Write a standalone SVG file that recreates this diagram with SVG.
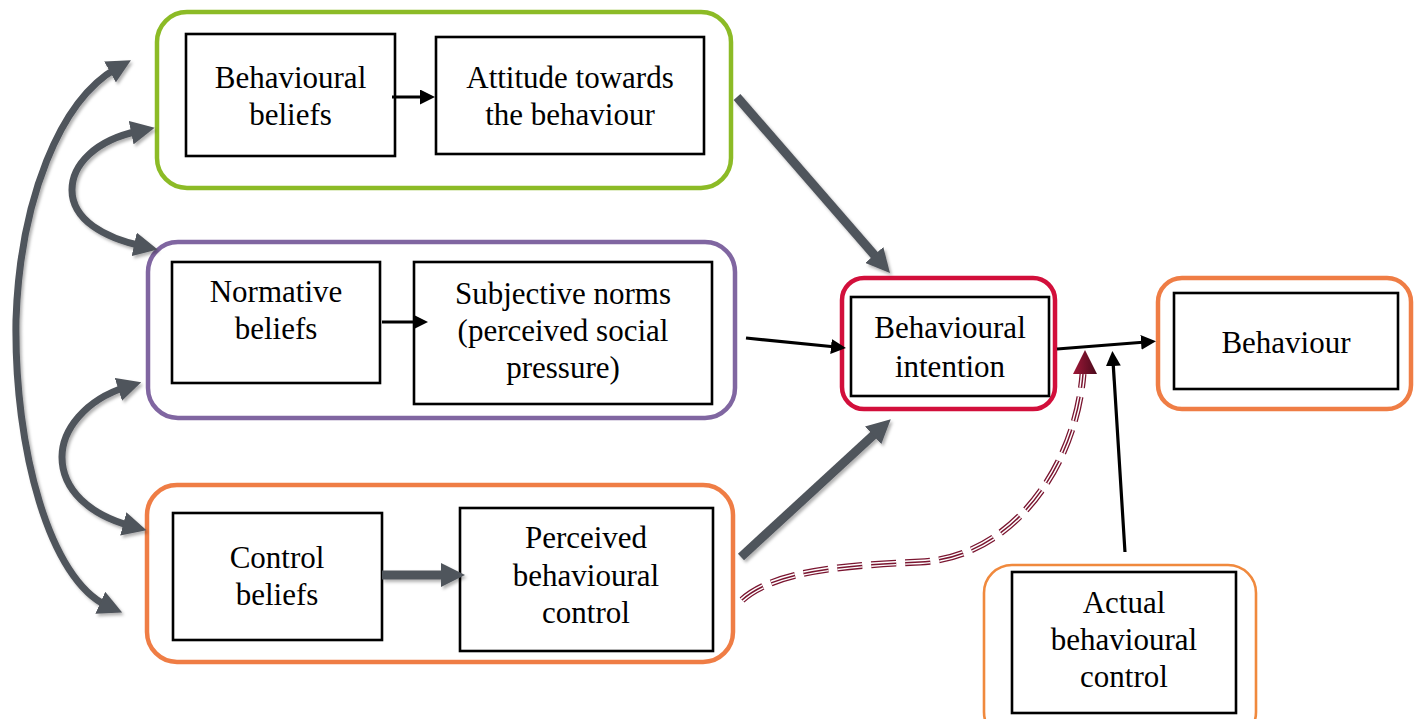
<svg xmlns="http://www.w3.org/2000/svg" width="1416" height="719" viewBox="0 0 1416 719">
  <defs>
    <style>
      .txt { font-family: "Liberation Serif", "Times New Roman", serif; font-size: 31px; fill: #000; text-anchor: middle; }
      .inner { fill: #fff; stroke: #000; stroke-width: 2.6; }
      .outer { fill: #fff; stroke-width: 4.5; }
      .heavy { fill: none; stroke: #50545b; stroke-width: 9; filter: url(#shadow); }
      .curve { fill: none; stroke: #50545b; stroke-width: 7; filter: url(#shadow); }
      .thin { fill: none; stroke: #000; stroke-width: 3.2; }
    </style>
    <filter id="shadow" filterUnits="userSpaceOnUse" x="0" y="0" width="1416" height="719">
      <feDropShadow dx="2" dy="2.5" stdDeviation="1.8" flood-color="#000" flood-opacity="0.3"/>
    </filter>
    <marker id="headGray" viewBox="0 0 24 24" markerWidth="24" markerHeight="24" refX="8" refY="12" markerUnits="userSpaceOnUse" orient="auto-start-reverse">
      <path d="M0,0 L24,12 L0,24 z" fill="#50545b"/>
    </marker>
    <marker id="headBlack" viewBox="0 0 15 15" markerWidth="15" markerHeight="15" refX="5" refY="7.5" markerUnits="userSpaceOnUse" orient="auto">
      <path d="M0,0 L15,7.5 L0,15 z" fill="#000"/>
    </marker>
    <linearGradient id="maroonHead" x1="0" y1="0" x2="1" y2="0">
      <stop offset="0" stop-color="#a01838"/>
      <stop offset="1" stop-color="#4a0a1c"/>
    </linearGradient>
  </defs>

  <!-- Attitude block -->
  <g id="attitude-group">
    <rect class="outer" x="157" y="12" width="574" height="176" rx="30" stroke="#8cbb26"/>
  </g>
  <g id="behavioural-beliefs">
    <rect class="inner" x="186" y="34" width="209" height="122"/>
    <text class="txt" x="290.5" y="88">Behavioural</text>
    <text class="txt" x="290.5" y="125">beliefs</text>
  </g>
  <g id="attitude">
    <rect class="inner" x="436" y="37" width="268" height="117"/>
    <text class="txt" x="570" y="88">Attitude towards</text>
    <text class="txt" x="570" y="125">the behaviour</text>
  </g>

  <!-- Subjective norms block -->
  <g id="norms-group">
    <rect class="outer" x="148" y="242" width="587" height="176" rx="30" stroke="#8066a1"/>
  </g>
  <g id="normative-beliefs">
    <rect class="inner" x="172" y="262" width="208" height="121"/>
    <text class="txt" x="276" y="302">Normative</text>
    <text class="txt" x="276" y="339">beliefs</text>
  </g>
  <g id="subjective-norms">
    <rect class="inner" x="414" y="262" width="298" height="142"/>
    <text class="txt" x="563" y="304">Subjective norms</text>
    <text class="txt" x="563" y="341">(perceived social</text>
    <text class="txt" x="563" y="378">pressure)</text>
  </g>

  <!-- Perceived control block -->
  <g id="control-group">
    <rect class="outer" x="147" y="485" width="586" height="177" rx="30" stroke="#ef7d45"/>
  </g>
  <g id="control-beliefs">
    <rect class="inner" x="173" y="513" width="209" height="127"/>
    <text class="txt" x="277" y="568">Control</text>
    <text class="txt" x="277" y="605">beliefs</text>
  </g>
  <g id="perceived-control">
    <rect class="inner" x="460" y="508" width="253" height="143"/>
    <text class="txt" x="586" y="548">Perceived</text>
    <text class="txt" x="586" y="586">behavioural</text>
    <text class="txt" x="586" y="623">control</text>
  </g>

  <!-- Intention -->
  <g id="intention">
    <rect class="outer" x="842" y="278" width="213" height="131" rx="22" stroke="#d20f3b"/>
    <rect class="inner" x="851" y="297" width="198" height="99"/>
    <text class="txt" x="950" y="338">Behavioural</text>
    <text class="txt" x="950" y="377">intention</text>
  </g>

  <!-- Behaviour -->
  <g id="behaviour">
    <rect class="outer" x="1158" y="278" width="253" height="131" rx="24" stroke="#ef7d45"/>
    <rect class="inner" x="1174" y="293" width="224" height="96"/>
    <text class="txt" x="1286" y="353">Behaviour</text>
  </g>

  <!-- Actual control -->
  <g id="actual-control">
    <rect x="984" y="565" width="272" height="175" rx="28" fill="#fff" stroke="#f0893d" stroke-width="2.6"/>
    <rect class="inner" x="1012" y="572" width="224" height="141"/>
    <text class="txt" x="1124" y="613">Actual</text>
    <text class="txt" x="1124" y="650">behavioural</text>
    <text class="txt" x="1124" y="687">control</text>
  </g>

  <!-- Connectors -->
  <g id="connectors">
    <!-- belief to construct links -->
    <line class="thin" x1="392" y1="97" x2="425" y2="97" marker-end="url(#headBlack)"/>
    <line class="thin" x1="382" y1="322" x2="418" y2="322" marker-end="url(#headBlack)"/>
    <line class="heavy" x1="382" y1="575" x2="449" y2="575" marker-end="url(#headGray)"/>

    <!-- constructs to intention -->
    <line class="heavy" x1="737" y1="97" x2="879.5" y2="261" marker-end="url(#headGray)"/>
    <line class="thin" x1="746" y1="338" x2="836" y2="347" marker-end="url(#headBlack)"/>
    <line class="heavy" x1="741" y1="557" x2="879" y2="430" marker-end="url(#headGray)"/>

    <!-- intention to behaviour, actual control -->
    <line class="thin" x1="1057" y1="349" x2="1146" y2="342" marker-end="url(#headBlack)"/>
    <line class="thin" x1="1125" y1="552" x2="1113" y2="361" marker-end="url(#headBlack)"/>

    <!-- correlations between belief groups -->
    <path class="curve" d="M117,68 C60,100 20,200 16,320 C14,450 50,580 107.6,606" marker-start="url(#headGray)" marker-end="url(#headGray)"/>
    <path class="curve" d="M139,131 C95,140 72,165 72,190 C72,220 105,238 142,246" marker-start="url(#headGray)" marker-end="url(#headGray)"/>
    <path class="curve" d="M126,387 C85,400 62,430 62,457 C62,490 90,515 131,526" marker-start="url(#headGray)" marker-end="url(#headGray)"/>

    <!-- perceived control moderating path (triple dashed line) -->
    <g id="moderation" fill="none" stroke-dasharray="25 9">
      <path d="M742,600 C775,570 850,565 920,562 C1010,558 1075,470 1083,374" stroke="#7a1530" stroke-width="7"/>
      <path d="M742,600 C775,570 850,565 920,562 C1010,558 1075,470 1083,374" stroke="#fff" stroke-width="4.4"/>
      <path d="M742,600 C775,570 850,565 920,562 C1010,558 1075,470 1083,374" stroke="#7a1530" stroke-width="1.5"/>
    </g>
    <polygon points="1085,350 1097,374 1073,374" fill="url(#maroonHead)"/>
  </g>
</svg>
